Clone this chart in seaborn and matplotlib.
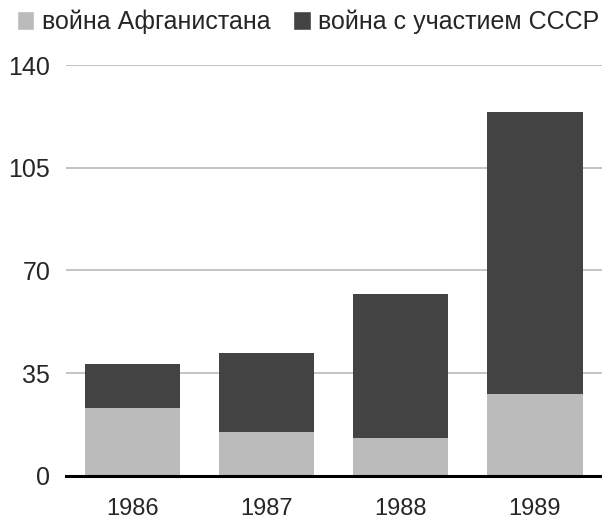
import matplotlib
matplotlib.use('Agg')
import matplotlib.pyplot as plt
import seaborn as sns
from matplotlib.patches import Patch

# data
years = ['1986', '1987', '1988', '1989']
afghan_war = [23, 15, 13, 28]        # война Афганистана
ussr_war = [15, 27, 49, 96]          # война с участием СССР
series_names = ['война Афганистана', 'война с участием СССР']
y_ticks = [0, 35, 70, 105, 140]

light = '#bbbbbb'
dark = '#434343'

sns.set_style('white')
plt.rcParams['font.family'] = ['Liberation Sans', 'DejaVu Sans']

fig = plt.figure(figsize=(6.02, 5.21), dpi=100)
ax = fig.add_axes([0.109, 0.087, 0.891, 0.788])

sns.barplot(x=years, y=afghan_war, color=light, width=0.71, ax=ax,
            saturation=1, zorder=3, linewidth=0, edgecolor='none')
sns.barplot(x=years, y=ussr_war, bottom=afghan_war, color=dark, width=0.71,
            ax=ax, saturation=1, zorder=3, linewidth=0, edgecolor='none')

ax.set_ylim(0, 140)
ax.set_xlim(-0.5, 3.5)
ax.set_yticks(y_ticks)
ax.set_yticklabels([str(t) for t in y_ticks])
ax.yaxis.grid(True, color='#c4c4c4', linewidth=1.4, zorder=0)
ax.set_axisbelow(True)
for s in ['top', 'right', 'left']:
    ax.spines[s].set_visible(False)
ax.spines['bottom'].set_color('black')
ax.spines['bottom'].set_linewidth(2.2)
ax.spines['bottom'].set_zorder(5)
ax.tick_params(axis='y', length=0, pad=11, labelsize=18)
ax.tick_params(axis='x', length=0, pad=16, labelsize=17)
ax.set_xlabel('')
ax.set_ylabel('')

handles = [Patch(facecolor=light), Patch(facecolor=dark)]
fig.legend(handles, series_names, loc='upper right', bbox_to_anchor=(1.033, 1.025),
           ncol=2, frameon=False, fontsize=18, handlelength=0.7,
           handleheight=0.8, handletextpad=0.3, columnspacing=0.9)

fig.savefig('out.png', dpi=100)
